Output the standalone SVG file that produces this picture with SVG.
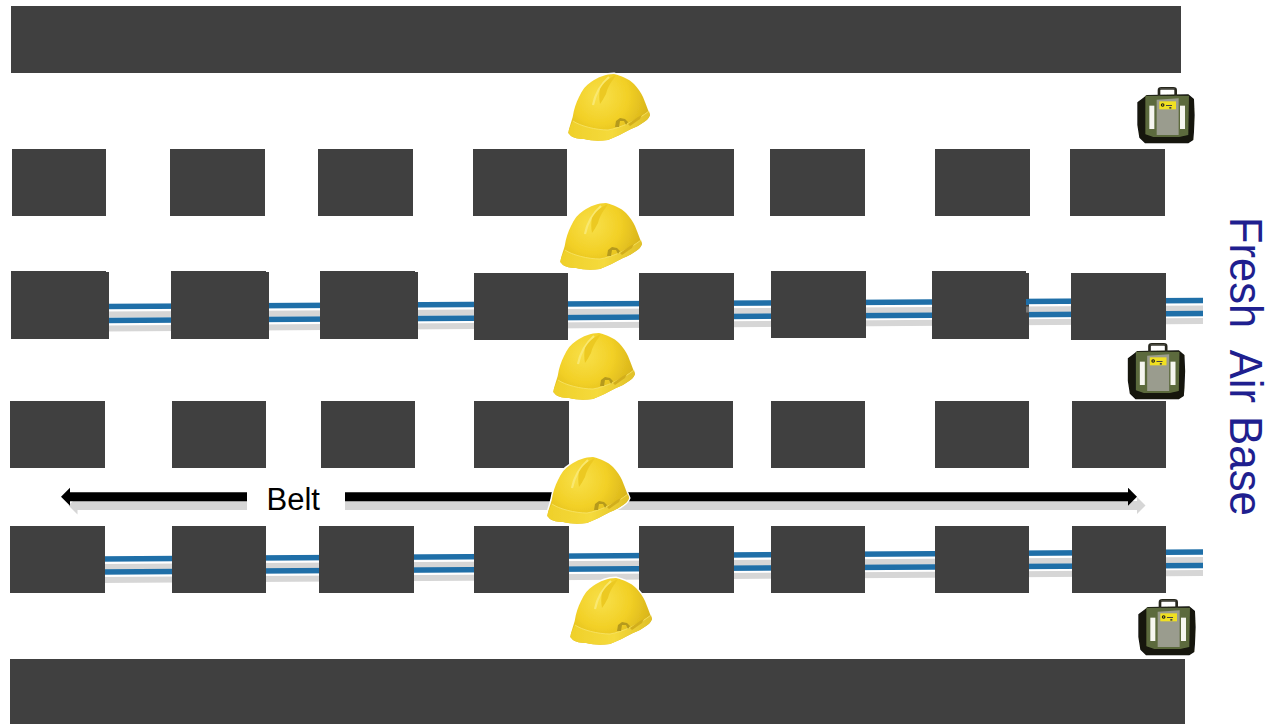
<svg xmlns="http://www.w3.org/2000/svg" width="1268" height="724" viewBox="0 0 1268 724">
<style>
.b{fill:#404040}
.pb{stroke:#1f6fa8;stroke-width:5.5;fill:none}
.pg{stroke:#d6d6d6;stroke-width:6;fill:none}
.fa{font-size:45.6px;fill:#1f1f8f}
text{font-family:"Liberation Sans",Arial,sans-serif}
</style>
<defs>
<radialGradient id="hg" gradientUnits="userSpaceOnUse" cx="32" cy="22" r="56">
<stop offset="0" stop-color="#f8e04a"/><stop offset="0.5" stop-color="#f2d026"/><stop offset="0.85" stop-color="#dcb81c"/><stop offset="1" stop-color="#c8a61e"/>
</radialGradient>
<linearGradient id="hb" gradientUnits="userSpaceOnUse" x1="0" y1="50" x2="80" y2="50">
<stop offset="0" stop-color="#efd02a"/><stop offset="0.55" stop-color="#f5da3c"/><stop offset="1" stop-color="#e2c22a"/>
</linearGradient>
<filter id="soft" x="-10%" y="-10%" width="120%" height="120%"><feGaussianBlur stdDeviation="0.5"/></filter>
<g id="helmet">
<path d="M0.3,59C1,54 3,49 4.7,43C6,35 8,29 11,23C14,16 18,11 23,8C30,3 38,0 46,0C54,2 61,5 66,10C70,14 73,19 75,23C77,28 79,33 80,36L82,41C81,44 79,46 76,48C72,51 68,53 63,55C55,59 48,63 40,66C32,67 24,67 16,65C10,65 6,64 3,62Z" fill="#fff" stroke="#fff" stroke-width="3"/>
<g filter="url(#soft)">
<path d="M0.3,59C1,54 3,49 4.7,43C6,35 8,29 11,23C14,16 18,11 23,8C30,3 38,0 46,0C54,2 61,5 66,10C70,14 73,19 75,23C77,28 79,33 80,36L82,41C81,44 79,46 76,48C72,51 68,53 63,55C55,59 48,63 40,66C32,67 24,67 16,65C10,65 6,64 3,62Z" fill="url(#hg)"/>
<path d="M0.3,59C1,54 3,51 5,47C12,52 28,56 40,56C52,54 70,46 81,37L82,41C81,44 79,46 76,48C72,51 68,53 63,55C55,59 48,63 40,66C32,67 24,67 16,65C10,65 6,64 3,62Z" fill="url(#hb)"/>
<path d="M5,47C12,52 28,56 40,56C52,54 70,46 81,37" fill="none" stroke="#f8e46a" stroke-width="0.8"/>
<path d="M25,31C27,21 32,11 41,3" stroke="#f9e870" stroke-width="2.2" fill="none"/>
<path d="M32,15C36,8 41,4 48,1C44,7 40,12 38,20C36,24 34,27 32,30C31,25 31,20 32,15Z" fill="#ecc922"/>
<path d="M47,53L48,47L52,44L57,45L60,48L58,51L56,47L52,47L51,53Z" fill="#b59a1e"/>
<path d="M60,50L70,43L74,41L72,45L62,52Z" fill="#d2ae1e"/>
</g>
</g>
<g id="kit">
<g filter="url(#soft)">
<path d="M82,82L100,68L110,60L235,58L252,72L254,120L252,170L250,195L235,205L105,205L88,188L82,150Z" fill="#12120c"/>
<path d="M147,66V46Q147,40 154,40H190Q197,40 197,46V66" fill="none" stroke="#26261e" stroke-width="8"/>
<path d="M150,42H194" stroke="#8a8a80" stroke-width="2"/>
<path d="M106,62L237,62L235,180L208,186L130,186L106,178Z" fill="#5c6a3c"/>
<path d="M140,74L206,70V180H140Z" fill="#9a9c8e"/>
<rect x="148" y="79" width="50" height="24" fill="#f0e020"/>
<circle cx="158" cy="90" r="5.5" fill="#1c1c1c"/>
<circle cx="158" cy="90" r="2" fill="#f0e020"/>
<rect x="168" y="90" width="18" height="3" fill="#444"/>
<rect x="178" y="96" width="6" height="5" fill="#444"/>
<rect x="118" y="92" width="15" height="70" fill="#f6f6f0"/>
<rect x="210" y="92" width="15" height="70" fill="#f6f6f0"/>
</g>
</g>
<marker id="hl" markerUnits="userSpaceOnUse" markerWidth="10" markerHeight="20" refX="0.5" refY="9" orient="auto-start-reverse"><path d="M0,0L9,9L0,18Z" fill="#000"/></marker>
<marker id="hs" markerUnits="userSpaceOnUse" markerWidth="10" markerHeight="20" refX="0.5" refY="9" orient="auto-start-reverse"><path d="M0,0L9,9L0,18Z" fill="#d6d6d6"/></marker>
</defs>

<g id="connectors">
<path class="pg" d="M105,314.5L1203,308.5"/>
<path class="pg" d="M105,328.5L1203,321"/>
<path class="pb" d="M105,306.5L1203,300.5"/>
<path class="pb" d="M105,320.5L1203,313.5"/>
<path class="pg" d="M100,567L1203,560"/>
<path class="pg" d="M100,580L1203,573"/>
<path class="pb" d="M100,559L1203,552"/>
<path class="pb" d="M100,572L1203,565.5"/>
<path d="M77,505.5H1137" stroke="#d6d6d6" stroke-width="9" fill="none" marker-start="url(#hs)" marker-end="url(#hs)"/>
<path d="M69.5,496.7H1128.5" stroke="#000" stroke-width="9" fill="none" marker-start="url(#hl)" marker-end="url(#hl)"/>
</g>

<g id="wall-top"><rect class="b" x="11" y="6" width="1170" height="67"/></g>
<g id="wall-bottom"><rect class="b" x="10" y="659" width="1175" height="65"/></g>

<g id="row1">
<rect class="b" x="12" y="149" width="94" height="67"/>
<rect class="b" x="170" y="149" width="95" height="67"/>
<rect class="b" x="318" y="149" width="95" height="67"/>
<rect class="b" x="473" y="149" width="94" height="67"/>
<rect class="b" x="639" y="149" width="95" height="67"/>
<rect class="b" x="770" y="149" width="95" height="67"/>
<rect class="b" x="935" y="149" width="95" height="67"/>
<rect class="b" x="1070" y="149" width="95" height="67"/>
</g>
<g id="row2">
<rect class="b" x="11" y="271" width="95" height="68"/><rect class="b" x="14" y="272" width="95" height="67"/>
<rect class="b" x="171" y="271" width="95" height="68"/><rect class="b" x="174" y="272" width="95" height="67"/>
<rect class="b" x="320" y="271" width="95" height="68"/><rect class="b" x="323" y="272" width="95" height="67"/>
<rect class="b" x="474" y="273" width="94" height="67"/>
<rect class="b" x="639" y="273" width="95" height="67"/>
<rect class="b" x="771" y="271" width="95" height="67"/>
<rect class="b" x="932" y="271" width="94" height="68"/><rect class="b" x="934" y="273" width="95" height="66"/>
<rect x="1026" y="299" width="3" height="6" fill="#1f6fa8"/><rect x="1026" y="306.5" width="3" height="6" fill="#777"/>
<rect class="b" x="1071" y="273" width="95" height="67"/>
</g>
<g id="row3">
<rect class="b" x="10" y="401" width="95" height="67"/>
<rect class="b" x="172" y="401" width="94" height="67"/>
<rect class="b" x="321" y="401" width="94" height="67"/>
<rect class="b" x="474" y="401" width="95" height="67"/>
<rect class="b" x="638" y="401" width="95" height="67"/>
<rect class="b" x="771" y="401" width="94" height="67"/>
<rect class="b" x="935" y="401" width="94" height="67"/>
<rect class="b" x="1072" y="401" width="94" height="67"/>
</g>
<g id="row4">
<rect class="b" x="10" y="526" width="95" height="67"/>
<rect class="b" x="172" y="526" width="94" height="67"/>
<rect class="b" x="319" y="526" width="95" height="67"/>
<rect class="b" x="474" y="526" width="95" height="67"/>
<rect class="b" x="639" y="526" width="95" height="67"/>
<rect class="b" x="771" y="526" width="94" height="67"/>
<rect class="b" x="935" y="526" width="94" height="67"/>
<rect class="b" x="1072" y="526" width="94" height="67"/>
</g>

<g id="belt-label">
<rect x="247" y="480" width="98" height="46" fill="#fff"/>
<text x="266.5" y="510" font-size="31" fill="#000">Belt</text>
</g>

<g id="helmet-1"><use href="#helmet" transform="translate(568,74)"/></g>
<g id="helmet-2"><use href="#helmet" transform="translate(560,203)"/></g>
<g id="helmet-3"><use href="#helmet" transform="translate(553,333)"/></g>
<g id="helmet-4"><use href="#helmet" transform="translate(547,457)"/></g>
<g id="helmet-5"><use href="#helmet" transform="translate(570,578)"/></g>

<g id="kit-1"><use href="#kit" transform="translate(1110,75) scale(.3333)"/></g>
<g id="kit-2"><use href="#kit" transform="translate(1100.5,331) scale(.3333)"/></g>
<g id="kit-3"><use href="#kit" transform="translate(1111,587) scale(.3333)"/></g>

<g id="fresh-air-base">
<text class="fa" transform="translate(1229.5,217) rotate(90)" textLength="186" lengthAdjust="spacingAndGlyphs" xml:space="preserve">Fresh  Air</text>
<text class="fa" transform="translate(1229.5,416) rotate(90)" textLength="100" lengthAdjust="spacingAndGlyphs">Base</text>
</g>
</svg>
